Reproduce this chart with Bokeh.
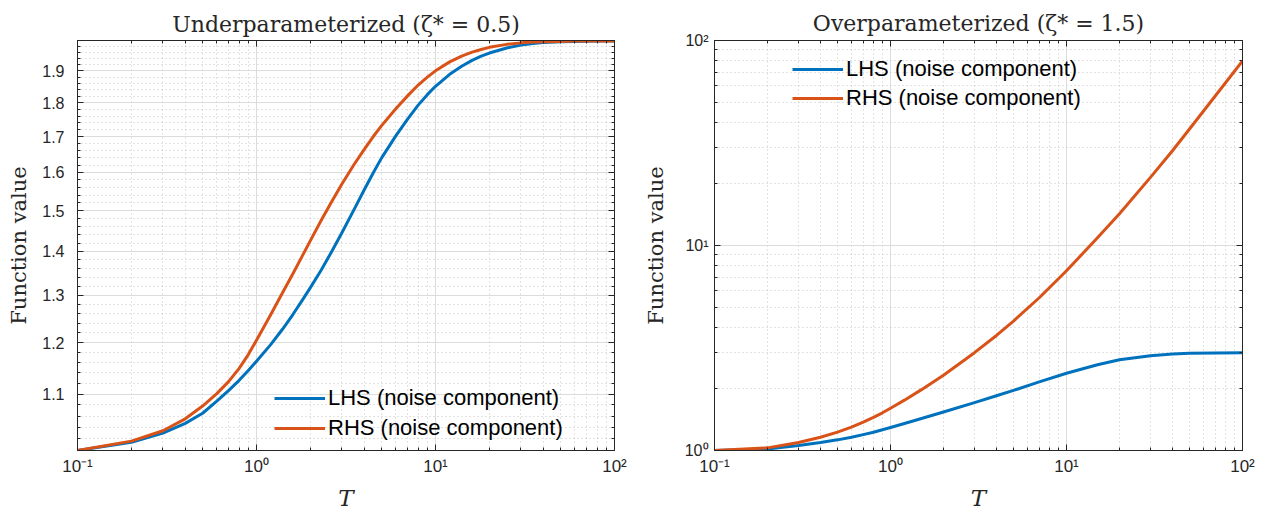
from bokeh.plotting import figure
from bokeh.layouts import row
from bokeh.models import (FixedTicker, LogAxis, Legend, LegendItem,
                          CustomJSTickFormatter, NumeralTickFormatter, Range1d)
from bokeh.embed import file_html
from bokeh.resources import INLINE

# ---------------- data ----------------
T_left = [0.1, 0.2, 0.3, 0.4, 0.5, 0.6, 0.7, 0.8, 0.9, 1.0, 1.2, 1.4, 1.6, 1.8, 2.0, 2.3,
          2.6, 3.0, 3.5, 4.0, 4.5, 5.0, 6.0, 7.0, 8.0, 9.0, 10, 12, 14, 16, 18, 20, 25,
          30, 35, 40, 50, 60, 80, 100]
lhs_left = [1.000, 1.014, 1.030, 1.047, 1.065, 1.087, 1.107, 1.126, 1.145, 1.163, 1.196,
            1.228, 1.259, 1.289, 1.317, 1.357, 1.396, 1.445, 1.502, 1.554, 1.600, 1.640,
            1.702, 1.752, 1.793, 1.825, 1.851, 1.889, 1.915, 1.934, 1.948, 1.958, 1.975,
            1.985, 1.990, 1.993, 1.996, 1.997, 1.998, 1.998]
rhs_left = [1.000, 1.016, 1.034, 1.055, 1.078, 1.101, 1.124, 1.149, 1.176, 1.205, 1.258,
            1.306, 1.349, 1.389, 1.426, 1.476, 1.519, 1.569, 1.621, 1.664, 1.701, 1.732,
            1.782, 1.822, 1.855, 1.880, 1.900, 1.929, 1.948, 1.961, 1.970, 1.977, 1.987,
            1.992, 1.995, 1.996, 1.997, 1.998, 1.998, 1.998]

T_right = [0.1, 0.2, 0.3, 0.4, 0.5, 0.6, 0.7, 0.8, 0.9, 1.0, 1.2, 1.5, 2, 3, 4, 5, 7, 10,
           15, 20, 30, 40, 50, 70, 100]
lhs_right = [1.000, 1.018, 1.057, 1.093, 1.127, 1.160, 1.195, 1.228, 1.262, 1.295, 1.355,
             1.432, 1.542, 1.713, 1.849, 1.965, 2.16, 2.38, 2.62, 2.77, 2.90, 2.954, 2.978,
             2.992, 2.998]
rhs_right = [1.000, 1.030, 1.095, 1.160, 1.229, 1.300, 1.375, 1.450, 1.527, 1.607, 1.760,
             1.981, 2.33, 3.00, 3.64, 4.28, 5.56, 7.53, 10.9, 14.3, 21.5, 29.0, 37.0, 53.6,
             79.5]

x_major = [0.1, 1, 10, 100]
x_minor = [m * d for d in [0.1, 1, 10] for m in range(2, 10)]
yl_major = [1.1, 1.2, 1.3, 1.4, 1.5, 1.6, 1.7, 1.8, 1.9]
yl_minor = [round(1.0 + 0.02 * i, 2) for i in range(1, 50) if i % 5 != 0]
yr_major = [1, 10, 100]
yr_minor = [m * d for d in [1, 10] for m in range(2, 10)]

titles = ["Underparameterized (\u03b6* = 0.5)", "Overparameterized (\u03b6* = 1.5)"]
labels = ["LHS (noise component)", "RHS (noise component)"]
BLUE = "#0072BD"
ORANGE = "#D95319"
AX = "#262626"
SERIF = "DejaVu Serif"

sup_fmt = CustomJSTickFormatter(code="""
const s = {'-':'\u207b','0':'\u2070','1':'\u00b9','2':'\u00b2','3':'\u00b3','4':'\u2074',
           '5':'\u2075','6':'\u2076','7':'\u2077','8':'\u2078','9':'\u2079'};
const e = Math.round(Math.log10(tick));
return '10' + String(e).split('').map(c => s[c]).join('');
""")
blank_fmt = CustomJSTickFormatter(code="return '';")


def style_axis(ax, ticker, fmt, show_labels=True):
    ax.ticker = ticker
    ax.formatter = fmt
    ax.axis_line_color = AX
    ax.major_tick_line_color = AX
    ax.minor_tick_line_color = AX
    ax.major_tick_in = 6
    ax.major_tick_out = 0
    ax.minor_tick_in = 3
    ax.minor_tick_out = 0
    ax.major_label_text_font = "Liberation Sans"
    ax.major_label_text_font_size = "16px" if show_labels else "0px"
    ax.major_label_text_color = AX
    ax.major_label_standoff = 6 if show_labels else 0
    ax.axis_label_text_font = SERIF
    ax.axis_label_text_font_size = "21px"
    ax.axis_label_text_font_style = "normal"
    ax.axis_label_text_color = AX


def make_fig(idx, width, left, yr, y_major, y_minor, yfmt, T, lhs, rhs, leg_loc, top,
             ylab_standoff, ytick_standoff, title_standoff):
    p = figure(width=width, height=513, x_axis_type="log", y_axis_type="log",
               x_range=Range1d(0.1, 100), y_range=yr,
               output_backend="svg", toolbar_location=None,
               min_border_left=left, min_border_right=26,
               min_border_top=top, min_border_bottom=60)
    p.title.text = titles[idx]
    p.title.text_font = SERIF
    p.title.text_font_size = "22px"
    p.title.text_font_style = "normal"
    p.title.text_color = AX
    p.title.align = "center"
    p.title.standoff = title_standoff
    p.outline_line_color = AX
    p.background_fill_color = "white"

    xt = FixedTicker(ticks=x_major, minor_ticks=x_minor)
    yt = FixedTicker(ticks=y_major, minor_ticks=y_minor)
    style_axis(p.xaxis[0], xt, sup_fmt)
    style_axis(p.yaxis[0], yt, yfmt)
    p.xaxis[0].major_label_text_font_size = "17px"
    p.xaxis[0].axis_label = "T"
    p.xaxis[0].axis_label_text_font_style = "italic"
    p.xaxis[0].axis_label_text_font_size = "23px"
    p.xaxis[0].axis_label_standoff = 6
    p.yaxis[0].axis_label = "Function value"
    p.yaxis[0].axis_label_standoff = ylab_standoff
    p.yaxis[0].major_label_standoff = ytick_standoff

    top_ax = LogAxis()
    style_axis(top_ax, xt, blank_fmt, show_labels=False)
    p.add_layout(top_ax, "above")
    right_ax = LogAxis()
    style_axis(right_ax, yt, blank_fmt, show_labels=False)
    p.add_layout(right_ax, "right")

    for g in (p.xgrid, p.ygrid):
        g.grid_line_color = "#dcdcdc"
        g.grid_line_width = 1
        g.minor_grid_line_color = "#c4c4c4"
        g.minor_grid_line_dash = "1 3"
        g.minor_grid_line_width = 1

    r1 = p.line(T, lhs, line_color=BLUE, line_width=3, line_join="round")
    r2 = p.line(T, rhs, line_color=ORANGE, line_width=3, line_join="round")

    leg = Legend(items=[LegendItem(label=labels[0], renderers=[r1]),
                        LegendItem(label=labels[1], renderers=[r2])],
                 location=leg_loc)
    leg.border_line_color = None
    leg.background_fill_alpha = 0
    leg.padding = 0
    leg.margin = 0
    leg.spacing = 4 if idx == 0 else 3
    leg.glyph_width = 51
    leg.glyph_height = 26
    leg.label_height = 26
    leg.label_standoff = 3
    leg.label_text_font = "Liberation Sans"
    leg.label_text_font_size = "22px"
    leg.label_text_color = "black"
    p.add_layout(leg, "center")
    return p


p1 = make_fig(0, 640, 77, Range1d(1.0, 2.0), yl_major, yl_minor,
              NumeralTickFormatter(format="0.0"), T_left, lhs_left, rhs_left,
              (197, 9), 37, 8, 13, 7)
p2 = make_fig(1, 628, 67, Range1d(1.0, 100.0), yr_major, yr_minor,
              sup_fmt, T_right, lhs_right, rhs_right, (78, 339), 40, 14, 6, 10)

layout = row(p1, p2)
open("out.html", "w").write(file_html(layout, INLINE))
